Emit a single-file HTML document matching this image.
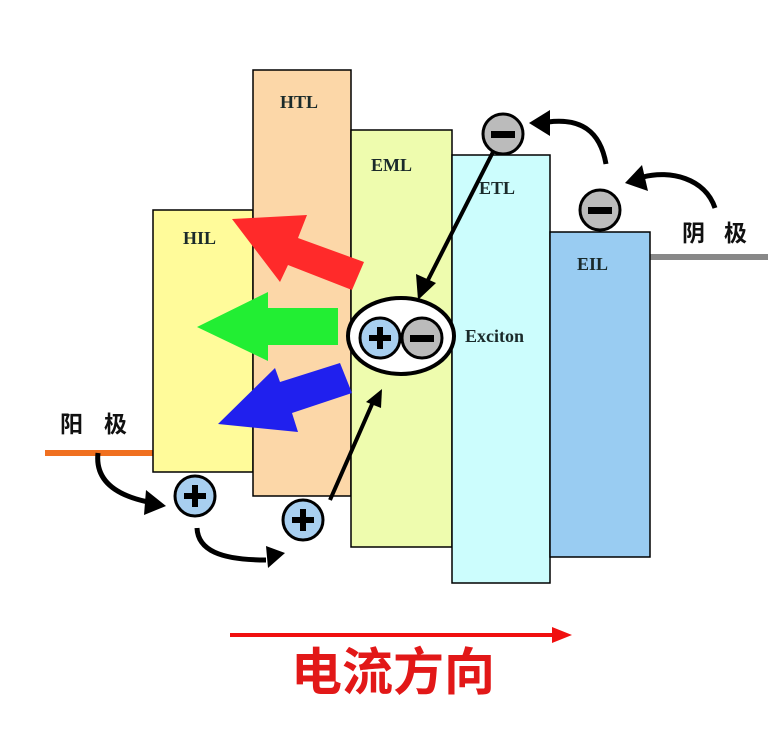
<!DOCTYPE html>
<html><head><meta charset="utf-8"><style>
html,body{margin:0;padding:0;background:#fff;}
svg{display:block}
</style></head><body>
<svg width="776" height="729" viewBox="0 0 776 729" xmlns="http://www.w3.org/2000/svg" font-family="'Liberation Serif', serif">
<!-- electrode lines -->
<rect x="45" y="450" width="110" height="6" fill="#f07020"/>
<rect x="648" y="254" width="120" height="6" fill="#888"/>
<!-- layers -->
<rect x="153" y="210" width="100" height="262" fill="#fffb9a" stroke="#000" stroke-width="1.5"/>
<rect x="253" y="70" width="98" height="426" fill="#fcd7a8" stroke="#000" stroke-width="1.5"/>
<rect x="351" y="130" width="101" height="417" fill="#eefcae" stroke="#000" stroke-width="1.5"/>
<rect x="452" y="155" width="98" height="428" fill="#ccfdfd" stroke="#000" stroke-width="1.5"/>
<rect x="550" y="232" width="100" height="325" fill="#99ccf2" stroke="#000" stroke-width="1.5"/>
<g font-weight="bold" font-size="18" fill="#1a2a2a">
<text x="183" y="244">HIL</text>
<text x="280" y="108">HTL</text>
<text x="371" y="171">EML</text>
<text x="479" y="194">ETL</text>
<text x="577" y="270">EIL</text>
<text x="465" y="342" font-size="18">Exciton</text>
</g>
<g font-family="'Liberation Sans','Noto Sans CJK SC',sans-serif" font-weight="bold" font-size="23" fill="#111">
<text x="60" y="432">阳</text><text x="104" y="432">极</text>
<text x="682" y="241">阴</text><text x="724" y="241">极</text>
</g>
<!-- colored arrows -->
<polygon points="232,219 307,215 298,238 364,262 352,290 288,265 280,282" fill="#ff2a2a"/>
<polygon points="197,327 268,292 268,308 338,308 338,345 268,345 268,361" fill="#22ee33"/>
<polygon points="218,424 275,368 280,382 340,363 352,393 292,413 298,432" fill="#2020ee"/>
<!-- connectors -->
<path d="M493,152 L428,280" stroke="#000" stroke-width="4" fill="none"/>
<polygon points="418,300 416,274 436,283" fill="#000"/>
<path d="M330,500 L373,402" stroke="#000" stroke-width="4" fill="none"/>
<polygon points="382,389 366,402 381,408" fill="#000"/>
<path d="M606,164 C600,130 580,118 548,122" stroke="#000" stroke-width="5" fill="none"/>
<polygon points="529,123 550,110 550,136" fill="#000"/>
<path d="M715,208 C705,178 670,170 643,177" stroke="#000" stroke-width="5" fill="none"/>
<polygon points="625,183 642,165 648,191" fill="#000"/>
<path d="M98,453 C95,480 115,495 148,502" stroke="#000" stroke-width="5" fill="none"/>
<polygon points="166,506 146,490 144,515" fill="#000"/>
<path d="M197,528 C198,550 220,560 266,560" stroke="#000" stroke-width="5" fill="none"/>
<polygon points="285,553 266,546 268,568" fill="#000"/>
<!-- charges -->
<g stroke="#000" stroke-width="3">
<circle cx="195" cy="496" r="20" fill="#a8cff0"/>
<circle cx="303" cy="520" r="20" fill="#a8cff0"/>
<ellipse cx="401" cy="336" rx="53" ry="38" fill="#fff" stroke-width="4"/>
<circle cx="380" cy="338" r="20" fill="#a8cff0"/>
<circle cx="422" cy="338" r="20" fill="#bbb"/>
<circle cx="503" cy="134" r="20" fill="#bbb"/>
<circle cx="600" cy="210" r="20" fill="#bbb"/>
</g>
<g fill="#000">
<rect x="184" y="493" width="22" height="6"/><rect x="192" y="485" width="6" height="22"/>
<rect x="292" y="517" width="22" height="6"/><rect x="300" y="509" width="6" height="22"/>
<rect x="369" y="335" width="22" height="6"/><rect x="377" y="327" width="6" height="22"/>
<rect x="410" y="335" width="24" height="7"/>
<rect x="491" y="131" width="24" height="7"/>
<rect x="588" y="207" width="24" height="7"/>
</g>
<!-- current direction -->
<rect x="230" y="633" width="325" height="4" fill="#f01010"/>
<polygon points="572,635 552,627 552,643" fill="#f01010"/>
<text x="393" y="690" text-anchor="middle" font-family="'Liberation Sans','Noto Sans CJK SC',sans-serif" font-weight="bold" font-size="51" fill="#e21818">电流方向</text>
</svg>
</body></html>
